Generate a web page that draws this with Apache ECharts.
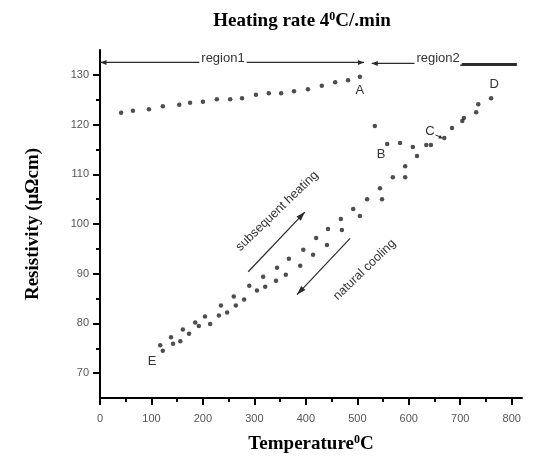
<!DOCTYPE html>
<html>
<head>
<meta charset="utf-8">
<script src="https://cdn.jsdelivr.net/npm/echarts@6/dist/echarts.min.js"></script>
<style>
  html, body { margin: 0; background: #fff; }
  #chart { width: 535px; height: 463px; }
</style>
</head>
<body>
<div id="chart"></div>
<script>
// first heating, region 1 (up to A)
const tempFirst = [41, 64, 95, 122, 154, 175, 200, 227, 253, 276, 303, 328, 352, 377, 404, 431, 457, 482, 505];
const resFirst = [122.4, 122.8, 123.1, 123.7, 124.0, 124.4, 124.6, 125.1, 125.1, 125.3, 126.0, 126.3, 126.3, 126.7, 127.1, 127.8, 128.5, 128.9, 129.6];

// region 2 (B -> C -> D)
const tempRegion2 = [534, 558, 583, 608, 616, 634, 643, 669, 684, 704, 707, 731, 735, 760];
const resRegion2 = [119.7, 116.1, 116.3, 115.5, 113.7, 115.9, 115.9, 117.3, 119.3, 120.7, 121.3, 122.5, 124.1, 125.3];

// natural cooling
const tempCooling = [122, 142, 156, 173, 192, 214, 231, 247, 264, 280, 305, 321, 342, 361, 389, 414, 441, 470, 505, 548, 593, 593];
const resCooling = [74.5, 75.9, 76.4, 77.9, 79.5, 79.9, 81.6, 82.2, 83.6, 84.8, 86.6, 87.4, 88.6, 89.8, 91.6, 93.8, 95.8, 98.8, 101.6, 105.0, 109.4, 111.6];

// subsequent heating
const tempReheat = [117, 138, 161, 185, 204, 235, 260, 290, 317, 344, 367, 395, 420, 443, 468, 492, 519, 544, 569];
const resReheat = [75.6, 77.2, 78.8, 80.2, 81.4, 83.6, 85.4, 87.6, 89.4, 91.2, 93.0, 94.8, 97.2, 99.0, 101.0, 103.0, 105.0, 107.2, 109.4];

const xMajor = [0, 100, 200, 300, 400, 500, 600, 700, 800];
const xMinor = [50, 150, 250, 350, 450, 550, 650, 750];
const yMajor = [70, 80, 90, 100, 110, 120, 130];
const yMinor = [75, 85, 95, 105, 115, 125];

const pairs = (xs, ys) => xs.map((x, i) => [x, ys[i]]);

const chart = echarts.init(document.getElementById("chart"));

const serif = "'Liberation Serif', 'Times New Roman', serif";
const sans = "'Liberation Sans', Arial, sans-serif";
const big = { fontFamily: serif, fontWeight: "bold", fontSize: 19, color: "#000" };
const sup = { fontFamily: serif, fontWeight: "bold", fontSize: 12, color: "#000", verticalAlign: "top", lineHeight: 20 };

const dot = { symbol: "circle", symbolSize: 4.5, itemStyle: { color: "#222" } };

function axisPair(kind, major, minor, min, max) {
  const base = {
    type: "value",
    min,
    max,
    position: kind === "x" ? "bottom" : "left",
    splitLine: { show: false },
    axisLine: { show: true, onZero: false, lineStyle: { color: "#000", width: 2 } },
  };
  return [
    {
      ...base,
      axisTick: { show: true, customValues: major, length: 7, lineStyle: { color: "#000", width: 2 } },
      axisLabel: { customValues: major, color: "#555", fontFamily: sans, fontSize: 11, margin: kind === "x" ? 15 : 11 },
    },
    {
      ...base,
      axisLine: { show: false },
      axisTick: { show: true, customValues: minor, length: 4, lineStyle: { color: "#000", width: 2 } },
      axisLabel: { show: false },
    },
  ];
}

const xAxes = axisPair("x", xMajor, xMinor, 0, 820);
xAxes[0].name = "{a|Temperature}{s|0}{a|C}";
xAxes[0].nameLocation = "middle";
xAxes[0].nameGap = 36;
xAxes[0].nameTextStyle = { rich: { a: big, s: sup } };

const yAxes = axisPair("y", yMajor, yMinor, 65, 135);
yAxes[0].name = "Resistivity (μΩcm)";
yAxes[0].nameLocation = "middle";
yAxes[0].nameGap = 57;
yAxes[0].nameTextStyle = big;

chart.setOption({
  animation: false,
  backgroundColor: "#fff",
  title: {
    text: "{a|Heating rate 4}{s|0}{a|C/.min}",
    left: 297,
    textAlign: "center",
    top: 6,
    textStyle: { rich: { a: big, s: sup } },
  },
  grid: { left: 100, right: 13, top: 50, bottom: 65 },
  xAxis: xAxes,
  yAxis: yAxes,
  series: [
    { name: "first heating", type: "scatter", data: pairs(tempFirst, resFirst), ...dot },
    { name: "region 2", type: "scatter", data: pairs(tempRegion2, resRegion2), ...dot },
    { name: "natural cooling", type: "scatter", data: pairs(tempCooling, resCooling), ...dot },
    { name: "subsequent heating", type: "scatter", data: pairs(tempReheat, resReheat), ...dot },
  ],
});

// annotations, placed in data units
const px = (x, y) => chart.convertToPixel({ xAxisIndex: 0, yAxisIndex: 0 }, [x, y]);
const ink = "#2b2b2b";

function line(a, b, width) {
  const p = px(...a), q = px(...b);
  return { type: "line", shape: { x1: p[0], y1: p[1], x2: q[0], y2: q[1] }, style: { stroke: ink, lineWidth: width || 1.2 }, z: 10 };
}

function head(from, to, len, half) {
  const p = px(...from), q = px(...to);
  const ang = Math.atan2(q[1] - p[1], q[0] - p[0]);
  const bx = q[0] - len * Math.cos(ang), by = q[1] - len * Math.sin(ang);
  const nx = -Math.sin(ang) * half, ny = Math.cos(ang) * half;
  return { type: "polygon", shape: { points: [[q[0], q[1]], [bx + nx, by + ny], [bx - nx, by - ny]] }, style: { fill: ink }, z: 10 };
}

function label(text, at, opts = {}) {
  const p = px(...at);
  return {
    type: "text",
    x: p[0],
    y: p[1],
    rotation: opts.rotation || 0,
    z: 11,
    style: {
      text,
      font: `${opts.size || 13}px ${sans}`,
      fill: "#333",
      align: "center",
      verticalAlign: "middle",
      backgroundColor: opts.bg,
      padding: opts.bg ? [0, 2] : 0,
    },
  };
}

const deg = Math.PI / 180;
chart.setOption({
  graphic: [
    // region 1
    line([1, 132.5], [513, 132.5]),
    head([20, 132.5], [1, 132.5], 6, 2.5),
    head([490, 132.5], [513, 132.5], 6, 2.5),
    label("region1", [239, 133.4], { bg: "#fff" }),
    // region 2
    line([528, 132.3], [700, 132.3]),
    head([548, 132.3], [528, 132.3], 6, 2.5),
    line([700, 132.1], [810, 132.1], 3),
    label("region2", [657, 133.4], { bg: "#fff" }),
    // point letters
    label("A", [505, 126.9]),
    label("B", [546, 113.9]),
    label("C", [641, 118.7]),
    line([652, 117.9], [664, 117.4], 1),
    head([652, 117.9], [666, 117.2], 4, 2),
    label("D", [766, 128.1]),
    label("E", [101, 72.3]),
    // heating / cooling arrows
    line([288, 90.4], [398, 102.4]),
    head([288, 90.4], [398, 102.4], 9, 3),
    label("subsequent heating", [344, 102.6], { rotation: 44 * deg, size: 12.5 }),
    line([486, 97.1], [383, 85.8]),
    head([486, 97.1], [383, 85.8], 9, 3),
    label("natural cooling", [514, 90.8], { rotation: 44 * deg, size: 12.5 }),
  ],
});
</script>
</body>
</html>
